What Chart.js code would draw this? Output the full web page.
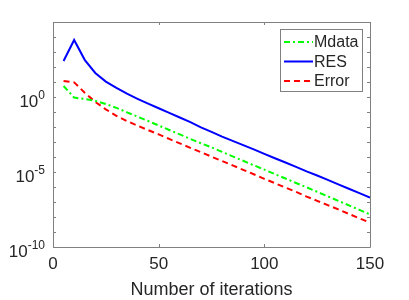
<!DOCTYPE html>
<html>
<head>
<meta charset="utf-8">
<script src="https://cdn.jsdelivr.net/npm/chart.js@4.4.1/dist/chart.umd.min.js"></script>
<style>
  html, body { margin: 0; padding: 0; background: #fff; }
  #wrap { width: 409px; height: 300px; }
</style>
</head>
<body>
<div id="wrap"><canvas id="lineChart" width="409" height="300"></canvas></div>
<script>
// iterations (x) and the three convergence curves
const iterations = [5, 10, 15, 20, 25, 30, 35, 40, 45, 50, 55, 60, 65, 70, 75,
  80, 85, 90, 95, 100, 105, 110, 115, 120, 125, 130, 135, 140, 145, 150];

const mdata = [5.4, 0.91, 0.74, 0.56, 0.34, 0.19, 0.095, 0.049, 0.025, 0.0126,
  6.3e-3, 3.2e-3, 1.6e-3, 8.3e-4, 4.4e-4, 2.2e-4, 1.1e-4, 5.6e-5, 2.8e-5, 1.45e-5,
  7.2e-6, 3.7e-6, 1.86e-6, 9.5e-7, 4.8e-7, 2.4e-7, 1.2e-7, 6.0e-8, 3.0e-8, 1.5e-8];

const res = [250, 6300, 300, 40, 10.7, 4.0, 1.66, 0.76, 0.36, 0.178,
  0.087, 0.043, 0.021, 9.5e-3, 4.7e-3, 2.3e-3, 1.2e-3, 6.2e-4, 3.2e-4, 1.6e-4,
  8.3e-5, 4.3e-5, 2.2e-5, 1.1e-5, 5.8e-6, 3.0e-6, 1.5e-6, 7.6e-7, 3.9e-7, 1.95e-7];

const errorVals = [11.7, 9.5, 1.95, 0.47, 0.151, 0.055, 0.025, 0.0123, 6.2e-3, 3.2e-3,
  1.6e-3, 8.1e-4, 4.1e-4, 2.1e-4, 1.05e-4, 5.4e-5, 2.75e-5, 1.4e-5, 7.1e-6, 3.5e-6,
  1.8e-6, 9.1e-7, 4.7e-7, 2.3e-7, 1.2e-7, 6.2e-8, 3.2e-8, 1.6e-8, 8.1e-9, 4.2e-9];

const xTicks = [0, 50, 100, 150];
const yTicks = [1e-10, 1e-9, 1e-8, 1e-7, 1e-6, 1e-5, 1e-4, 1e-3, 1e-2, 1e-1,
  1, 1e1, 1e2, 1e3, 1e4, 1e5];
const yLabelValues = [1, 1e-5, 1e-10];
const yLabelExps = ['0', '-5', '-10'];

const textColor = '#262626';
const axisColor = '#808080';
const fontFamily = '"Liberation Sans", Arial, Helvetica, sans-serif';

function points(values) {
  return iterations.map((x, i) => ({ x: x, y: values[i] }));
}

// box, inward ticks, superscript y labels and the legend (MATLAB look)
const matlabAxes = {
  id: 'matlabAxes',
  afterDraw(chart) {
    const ctx = chart.ctx;
    const area = chart.chartArea;
    const xs = chart.scales.x;
    const ys = chart.scales.y;
    const tick = 3;

    ctx.save();
    ctx.strokeStyle = axisColor;
    ctx.lineWidth = 1;
    ctx.beginPath();
    ctx.rect(Math.round(area.left) + 0.5, Math.round(area.top) + 0.5,
      Math.round(area.right - area.left), Math.round(area.bottom - area.top));
    ctx.stroke();

    ctx.beginPath();
    xTicks.forEach(v => {
      const px = Math.round(xs.getPixelForValue(v)) + 0.5;
      ctx.moveTo(px, area.bottom); ctx.lineTo(px, area.bottom - tick);
      ctx.moveTo(px, area.top); ctx.lineTo(px, area.top + tick);
    });
    yTicks.forEach(v => {
      const py = Math.round(ys.getPixelForValue(v)) + 0.5;
      ctx.moveTo(area.left, py); ctx.lineTo(area.left + tick, py);
      ctx.moveTo(area.right, py); ctx.lineTo(area.right - tick, py);
    });
    ctx.stroke();

    // y labels as 10^n
    ctx.fillStyle = textColor;
    ctx.textAlign = 'right';
    ctx.textBaseline = 'alphabetic';
    yLabelValues.forEach((v, i) => {
      const py = ys.getPixelForValue(v);
      const rightEdge = area.left - 8;
      ctx.font = '12px ' + fontFamily;
      const supW = ctx.measureText(yLabelExps[i]).width;
      ctx.fillText(yLabelExps[i], rightEdge, py + 1.5);
      ctx.font = '17px ' + fontFamily;
      ctx.fillText('10', rightEdge - supW, py + 10);
    });

    // legend
    const lx = 280, ly = 29, lw = 82, lh = 62;
    ctx.fillStyle = '#ffffff';
    ctx.fillRect(lx, ly, lw, lh);
    ctx.strokeStyle = axisColor;
    ctx.strokeRect(lx + 0.5, ly + 0.5, lw, lh);
    ctx.font = '16px ' + fontFamily;
    ctx.textAlign = 'left';
    ctx.textBaseline = 'middle';
    chart.data.datasets.forEach((ds, i) => {
      const y = ly + 13 + i * 19.5;
      ctx.save();
      ctx.strokeStyle = ds.borderColor;
      ctx.lineWidth = ds.borderWidth;
      ctx.setLineDash(ds.borderDash || []);
      ctx.beginPath();
      ctx.moveTo(lx + 4, y);
      ctx.lineTo(lx + 33, y);
      ctx.stroke();
      ctx.restore();
      ctx.fillStyle = textColor;
      ctx.fillText(ds.label, lx + 34, y + 1);
    });
    ctx.restore();
  }
};

const ctx = document.getElementById('lineChart').getContext('2d');
const lineChart = new Chart(ctx, {
  type: 'line',
  data: {
    datasets: [{
      label: 'Mdata',
      data: points(mdata),
      borderColor: '#00ff00',
      borderWidth: 2,
      borderDash: [6, 3, 2, 3],
      pointRadius: 0,
      fill: false
    }, {
      label: 'RES',
      data: points(res),
      borderColor: '#0000ff',
      borderWidth: 2,
      pointRadius: 0,
      fill: false
    }, {
      label: 'Error',
      data: points(errorVals),
      borderColor: '#ff0000',
      borderWidth: 2,
      borderDash: [6, 4],
      pointRadius: 0,
      fill: false
    }]
  },
  options: {
    responsive: false,
    animation: false,
    layout: { padding: { top: 22, right: 39, left: 0, bottom: 0 } },
    plugins: {
      legend: { display: false },
      tooltip: { enabled: false }
    },
    scales: {
      x: {
        type: 'linear',
        min: 0,
        max: 150,
        afterBuildTicks: s => { s.ticks = xTicks.map(v => ({ value: v })); },
        afterFit: s => { s.height = 53; },
        grid: { display: false, drawTicks: false },
        border: { display: false },
        ticks: {
          padding: 7,
          color: textColor,
          font: { family: fontFamily, size: 17 },
          maxRotation: 0
        },
        title: {
          display: true,
          text: 'Number of iterations',
          color: textColor,
          font: { family: fontFamily, size: 18 },
          padding: { top: 2, bottom: -1 }
        }
      },
      y: {
        type: 'logarithmic',
        min: 1e-10,
        max: 1e5,
        afterBuildTicks: s => { s.ticks = yTicks.map(v => ({ value: v })); },
        afterFit: s => { s.width = 53; },
        grid: { display: false, drawTicks: false },
        border: { display: false },
        ticks: { display: false }
      }
    }
  },
  plugins: [matlabAxes]
});
</script>
</body>
</html>
